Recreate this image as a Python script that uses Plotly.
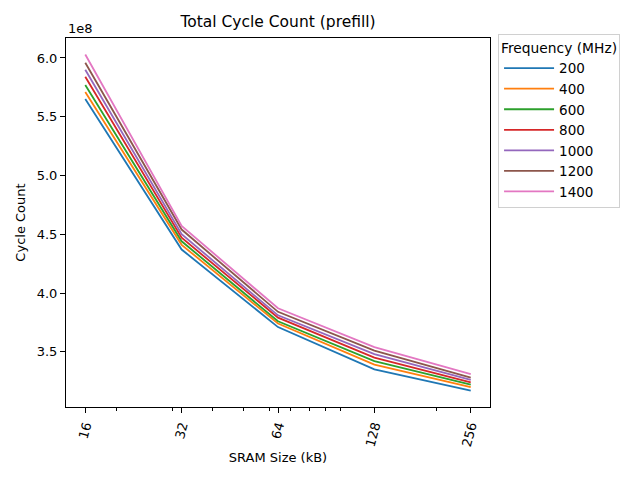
import plotly.graph_objects as go

sram_kb = [16, 32, 64, 128, 256]
freqs = ["200", "400", "600", "800", "1000", "1200", "1400"]
cyc_200 = [5.65e8, 4.37e8, 3.71e8, 3.35e8, 3.17e8]
cyc_400 = [5.71e8, 4.41e8, 3.74e8, 3.39e8, 3.20e8]
cyc_600 = [5.77e8, 4.44e8, 3.76e8, 3.42e8, 3.22e8]
cyc_800 = [5.84e8, 4.47e8, 3.79e8, 3.45e8, 3.24e8]
cyc_1000 = [5.90e8, 4.50e8, 3.81e8, 3.48e8, 3.26e8]
cyc_1200 = [5.96e8, 4.54e8, 3.84e8, 3.51e8, 3.28e8]
cyc_1400 = [6.03e8, 4.57e8, 3.87e8, 3.54e8, 3.31e8]
series = [cyc_200, cyc_400, cyc_600, cyc_800, cyc_1000, cyc_1200, cyc_1400]
colors = ["#1f77b4", "#ff7f0e", "#2ca02c", "#d62728", "#9467bd", "#8c564b", "#e377c2"]

y_ticks = [3.5e8, 4.0e8, 4.5e8, 5.0e8, 5.5e8, 6.0e8]
y_tick_text = ["3.5", "4.0", "4.5", "5.0", "5.5", "6.0"]
x_minor = [20, 30, 40, 50, 60, 70, 80, 90, 100, 200]

fig = go.Figure()
for name, vals, c in zip(freqs, series, colors):
    fig.add_trace(go.Scatter(x=sram_kb, y=vals, mode="lines", name=name,
                             line=dict(color=c, width=1.8)))

W, H = 632, 472
font = "DejaVu Sans"
fig.update_layout(
    width=W, height=H,
    margin=dict(l=58, r=150, t=30, b=73, autoexpand=False),
    paper_bgcolor="white", plot_bgcolor="white",
    font=dict(family=font, size=13, color="black"),
    title=dict(text="Total Cycle Count (prefill)", xref="paper", x=0.5, xanchor="center",
               y=1 - 14 / H, yanchor="middle", font=dict(size=15.5)),
    showlegend=True,
    legend=dict(x=1.019, y=1.011, xanchor="left", yanchor="top",
                bordercolor="#d0d0d0", borderwidth=1, bgcolor="white",
                title=dict(text="Frequency (MHz)", side="top center", font=dict(size=13.8)),
                font=dict(size=13.5), tracegroupgap=0, itemwidth=50),
)
fig.update_xaxes(type="log", range=[1.1439, 2.4684], automargin=False,
                 tickvals=sram_kb, ticktext=[str(v) for v in sram_kb],
                 tickangle=-75, ticks="outside", ticklen=5, tickcolor="black",
                 minor=dict(tickvals=x_minor, ticks="outside", ticklen=3, tickcolor="black"),
                 showline=True, linecolor="black", linewidth=1, mirror=True,
                 showgrid=False, zeroline=False,
                 title=dict(text="SRAM Size (kB)", font=dict(size=13), standoff=5))
fig.update_yaxes(range=[3.03e8, 6.17e8], tickvals=y_ticks, ticktext=y_tick_text,
                 automargin=False,
                 ticks="outside", ticklen=5, tickcolor="black",
                 showline=True, linecolor="black", linewidth=1, mirror=True,
                 showgrid=False, zeroline=False,
                 title=dict(text="Cycle Count", font=dict(size=13), standoff=8))
fig.add_annotation(text="1e8", xref="paper", yref="paper", x=0, y=1, xanchor="left",
                   yanchor="bottom", showarrow=False, font=dict(size=13), yshift=0)

fig.write_html("out.html")
